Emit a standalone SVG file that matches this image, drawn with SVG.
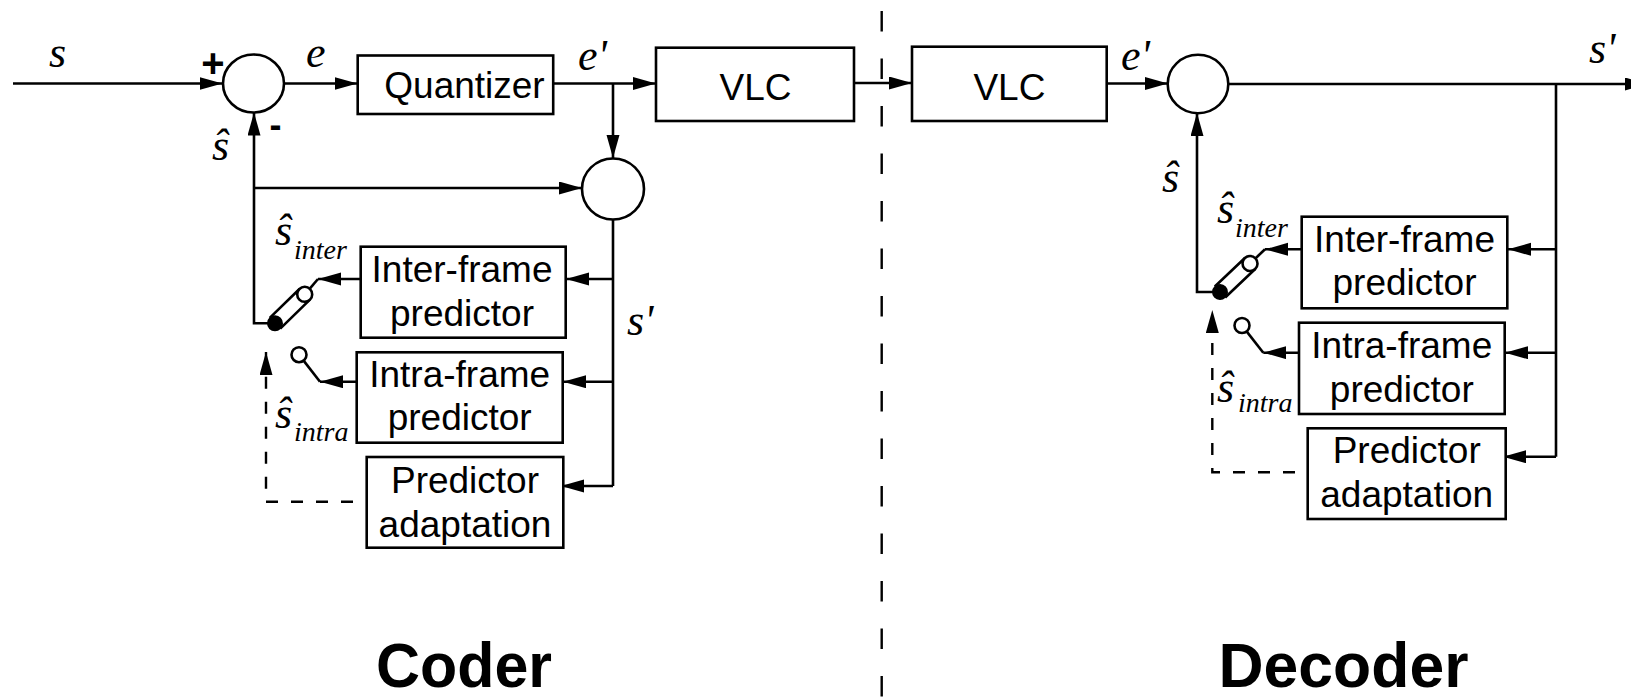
<svg xmlns="http://www.w3.org/2000/svg" width="1631" height="697" viewBox="0 0 1631 697">
<defs>
<style>
.ln{fill:none;stroke:#000;stroke-width:2.6}
.ds{fill:none;stroke:#000;stroke-width:2.4;stroke-dasharray:12 13}
.bx{fill:#fff;stroke:#000;stroke-width:2.6}
.ci{fill:#fff;stroke:#000;stroke-width:2.6}
.bt{font-family:"Liberation Sans",Arial,sans-serif;font-size:37px;text-anchor:middle;fill:#000}
.var{font-family:"Liberation Serif","Times New Roman",serif;font-style:italic;font-size:44px;fill:#000}
.sub{font-family:"Liberation Serif","Times New Roman",serif;font-style:italic;font-size:28px;fill:#000}
.sg{font-family:"Liberation Sans",Arial,sans-serif;font-weight:bold;fill:#000;text-anchor:middle}
.ttl{font-family:"Liberation Sans",Arial,sans-serif;font-weight:bold;font-size:63px;text-anchor:middle;fill:#000}
</style>
<marker id="ar" markerUnits="userSpaceOnUse" markerWidth="24" markerHeight="14" refX="23" refY="6.5" orient="auto">
<path d="M0,0 L23,6.5 L0,13 z" fill="#000"/>
</marker>
</defs>
<rect width="1631" height="697" fill="#fff"/>

<!-- divider -->
<line x1="881.7" y1="11" x2="881.7" y2="697" stroke="#000" stroke-width="2.4" stroke-dasharray="20.5 27"/>

<g id="connectors">
<!-- coder -->
<path class="ln" d="M13,83.5 H222.5" marker-end="url(#ar)"/>
<path class="ln" d="M284,83.5 H357.5" marker-end="url(#ar)"/>
<path class="ln" d="M553,83.5 H656" marker-end="url(#ar)"/>
<path class="ln" d="M613,83.5 V158" marker-end="url(#ar)"/>
<path class="ln" d="M275,323.3 H254 V112.5" marker-end="url(#ar)"/>
<path class="ln" d="M254,188 H582" marker-end="url(#ar)"/>
<path class="ln" d="M613,220 V486"/>
<path class="ln" d="M613,279 H566" marker-end="url(#ar)"/>
<path class="ln" d="M613,381.7 H563" marker-end="url(#ar)"/>
<path class="ln" d="M613,486 H561" marker-end="url(#ar)"/>
<path class="ln" d="M360.7,279 H318" marker-end="url(#ar)"/>
<path class="ln" d="M318,279 L310,288.3"/>
<path class="ln" d="M356.7,381.7 H320" marker-end="url(#ar)"/>
<path class="ln" d="M320,381.7 L303.6,360.6"/>
<path class="ds" d="M353,501.7 H266 V352" marker-end="url(#ar)"/>
<!-- link -->
<path class="ln" d="M854,83 H912" marker-end="url(#ar)"/>
<!-- decoder -->
<path class="ln" d="M1106.7,83.5 H1168" marker-end="url(#ar)"/>
<path class="ln" d="M1228,84 H1648" marker-end="url(#ar)"/>
<path class="ln" d="M1556,84 V456.7"/>
<path class="ln" d="M1556,249.3 H1508" marker-end="url(#ar)"/>
<path class="ln" d="M1556,352.7 H1505" marker-end="url(#ar)"/>
<path class="ln" d="M1556,456.7 H1503" marker-end="url(#ar)"/>
<path class="ln" d="M1220,292 H1197 V113" marker-end="url(#ar)"/>
<path class="ln" d="M1301.7,249.3 H1265" marker-end="url(#ar)"/>
<path class="ln" d="M1265,249.3 L1255.1,258.7"/>
<path class="ln" d="M1299,352.7 H1263.3" marker-end="url(#ar)"/>
<path class="ln" d="M1263.3,352.7 L1246.6,331.4"/>
<path class="ds" d="M1295,472.3 H1212.3 V310" marker-end="url(#ar)"/>
</g>

<!-- coder nodes -->
<g id="sum1"><ellipse class="ci" cx="253.5" cy="83.5" rx="30.5" ry="29"/></g>
<g id="quantizer"><rect class="bx" x="357.7" y="55.5" width="195.5" height="58.5"/><text class="bt" x="464.5" y="97.5">Quantizer</text></g>
<g id="vlc1"><rect class="bx" x="656" y="47.7" width="198" height="73.3"/><text class="bt" x="755.5" y="100">VLC</text></g>
<g id="sum2"><ellipse class="ci" cx="613" cy="189" rx="31" ry="30.5"/></g>
<g id="inter1"><rect class="bx" x="360.7" y="246.7" width="205" height="91"/><text class="bt" x="462" y="281.7">Inter-frame</text><text class="bt" x="462" y="326">predictor</text></g>
<g id="intra1"><rect class="bx" x="356.7" y="352.3" width="206" height="90.4"/><text class="bt" x="459.7" y="386.7">Intra-frame</text><text class="bt" x="459.7" y="430">predictor</text></g>
<g id="adapt1"><rect class="bx" x="366.7" y="457" width="196.6" height="90.7"/><text class="bt" x="465" y="492.7">Predictor</text><text class="bt" x="465" y="536.7">adaptation</text></g>
<g id="switch1">
<g transform="translate(275,323.3) rotate(-44.3)">
<path class="ln" d="M0,-7.5 H41.5 M0,7.5 H41.5"/>
<circle class="ci" cx="41.5" cy="0" r="7.5"/>
<circle cx="0" cy="0" r="8" fill="#000"/>
</g>
<circle class="ci" cx="299" cy="354.7" r="7.5"/>
</g>

<!-- decoder nodes -->
<g id="vlc2"><rect class="bx" x="912" y="46.7" width="194.7" height="74.3"/><text class="bt" x="1009.4" y="100">VLC</text></g>
<g id="sum3"><ellipse class="ci" cx="1198" cy="84" rx="30.3" ry="29.2"/></g>
<g id="inter2"><rect class="bx" x="1301.7" y="216.7" width="205.6" height="91.6"/><text class="bt" x="1404.5" y="251.7">Inter-frame</text><text class="bt" x="1404.5" y="295">predictor</text></g>
<g id="intra2"><rect class="bx" x="1299" y="322.7" width="205.7" height="91.3"/><text class="bt" x="1401.8" y="358.3">Intra-frame</text><text class="bt" x="1401.8" y="401.7">predictor</text></g>
<g id="adapt2"><rect class="bx" x="1307.7" y="428.3" width="198" height="90.7"/><text class="bt" x="1406.7" y="463.3">Predictor</text><text class="bt" x="1406.7" y="506.7">adaptation</text></g>
<g id="switch2">
<g transform="translate(1220,292) rotate(-43.5)">
<path class="ln" d="M0,-7.5 H41.4 M0,7.5 H41.4"/>
<circle class="ci" cx="41.4" cy="0" r="7.5"/>
<circle cx="0" cy="0" r="8" fill="#000"/>
</g>
<circle class="ci" cx="1242" cy="325.5" r="7.5"/>
</g>

<!-- labels -->
<g id="labels">
<text class="var" x="49" y="67">s</text>
<text class="sg" x="213" y="77" font-size="40">+</text>
<text class="sg" x="275.5" y="137" font-size="36">-</text>
<text class="var" x="306" y="67">e</text>
<text class="var" x="212" y="160">ŝ</text>
<text class="var" x="578" y="70">e'</text>
<text class="var" x="275" y="245">ŝ</text><text class="sub" x="294" y="259">inter</text>
<text class="var" x="275" y="428">ŝ</text><text class="sub" x="294" y="441">intra</text>
<text class="var" x="627" y="335">s'</text>
<text class="var" x="1121" y="70">e'</text>
<text class="var" x="1162" y="192">ŝ</text>
<text class="var" x="1217" y="223">ŝ</text><text class="sub" x="1235" y="237">inter</text>
<text class="var" x="1217" y="402">ŝ</text><text class="sub" x="1238" y="412">intra</text>
<text class="var" x="1589" y="63">s'</text>
<text class="ttl" x="464" y="687" textLength="176" lengthAdjust="spacingAndGlyphs">Coder</text>
<text class="ttl" x="1343.5" y="687" textLength="250" lengthAdjust="spacingAndGlyphs">Decoder</text>
</g>
</svg>
